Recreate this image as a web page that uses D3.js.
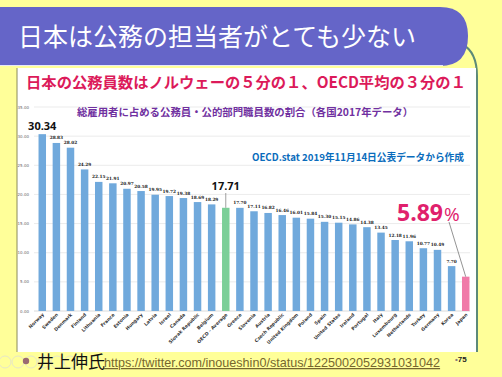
<!DOCTYPE html>
<html>
<head>
<meta charset="utf-8">
<script src="https://cdn.jsdelivr.net/npm/d3@7"></script>
<style>
  body { margin: 0; background: #ffff99; }
  svg { display: block; }
</style>
</head>
<body>
<div id="vis"></div>
<script>
// data
const countries = ["Norway", "Sweden", "Denmark", "Finland", "Lithuania", "France", "Estonia",
  "Hungary", "Latvia", "Israel", "Canada", "Slovak Republic", "Belgium", "OECD - Average",
  "Greece", "Slovenia", "Austria", "Czech Republic", "United Kingdom", "Poland", "Spain",
  "United States", "Ireland", "Portugal", "Italy", "Luxembourg", "Netherlands", "Turkey",
  "Germany", "Korea", "Japan"];
const shares = [30.34, 28.83, 28.02, 24.29, 22.15, 21.91, 20.97, 20.58, 19.95, 19.72, 19.38,
  18.69, 18.29, 17.71, 17.70, 17.11, 16.82, 16.46, 16.01, 15.84, 15.30, 15.15, 14.86, 14.38,
  13.45, 12.18, 11.96, 10.77, 10.49, 7.70, 5.89];
const yTicks = [0, 5, 10, 15, 20, 25, 30, 35];

const W = 502, H = 377;
const data = countries.map((c, i) => ({ name: c, v: shares[i] }));

const svg = d3.select("#vis").append("svg")
  .attr("width", W).attr("height", H);

svg.append("rect").attr("width", W).attr("height", H).attr("fill", "#ffff99");

////////// slide decoration //////////

// green curve on the right
svg.append("path")
  .attr("d", "M462,44 Q477,52 477,76 L477,352")
  .attr("fill", "none").attr("stroke", "#5d8a78").attr("stroke-width", 2);

// white chart panel
svg.append("rect")
  .attr("x", 17).attr("y", 68).attr("width", 459).attr("height", 284)
  .attr("fill", "#ffffff");
svg.append("line")
  .attr("x1", 17).attr("x2", 17).attr("y1", 68).attr("y2", 352)
  .attr("stroke", "#8a8a5a").attr("stroke-width", 1);

// purple title band
svg.append("path")
  .attr("d", "M0,7 L440,7 Q468,7 468,36 Q468,66 440,66 L0,66 Z")
  .attr("fill", "#6565c8");
svg.append("line")
  .attr("x1", 0).attr("x2", 443).attr("y1", 65.5).attr("y2", 65.5)
  .attr("stroke", "#e8e8f8").attr("stroke-width", 1.2);

svg.append("text")
  .attr("x", 18).attr("y", 46)
  .attr("fill", "#ffffff")
  .style("font-family", "'Noto Sans CJK JP'")
  .style("font-size", "25px")
  .text("日本は公務の担当者がとても少ない");

svg.append("text")
  .attr("x", 246).attr("y", 88)
  .attr("text-anchor", "middle")
  .attr("fill", "#dc1a5a")
  .style("font-family", "'Noto Sans CJK JP'")
  .style("font-weight", "bold")
  .style("font-size", "15.3px")
  .text("日本の公務員数はノルウェーの５分の１、OECD平均の３分の１");

////////// chart //////////

const x = d3.scaleBand()
  .domain(countries)
  .range([35, 473])
  .paddingInner(0.47)
  .paddingOuter(0.25);

const y = d3.scaleLinear()
  .domain([0, 35])
  .range([311, 107]);

const grid = svg.append("g").attr("class", "grid");
grid.selectAll("line")
  .data(yTicks)
  .enter()
  .append("line")
  .attr("x1", 34).attr("x2", 470)
  .attr("y1", d => y(d)).attr("y2", d => y(d))
  .attr("stroke", d => d === 0 ? "#d0d0d0" : "#e6e6e6")
  .attr("stroke-width", 0.8);

grid.selectAll("text")
  .data(yTicks)
  .enter()
  .append("text")
  .attr("x", 29).attr("y", d => y(d) + 1.5)
  .attr("text-anchor", "end")
  .attr("fill", "#666")
  .style("font-family", "'DejaVu Sans'")
  .style("font-size", "4px")
  .text(d => d3.format(".2f")(d));

svg.append("text")
  .attr("x", 245).attr("y", 116)
  .attr("text-anchor", "middle")
  .attr("fill", "#7030a0")
  .style("font-family", "'Noto Sans CJK JP'")
  .style("font-weight", "bold")
  .style("font-size", "10.4px")
  .text("総雇用者に占める公務員・公的部門職員数の割合（各国2017年データ）");

svg.append("text")
  .attr("x", 464).attr("y", 161)
  .attr("text-anchor", "end")
  .attr("fill", "#0a6cbc")
  .style("font-family", "'Noto Sans CJK JP'")
  .style("font-weight", "bold")
  .style("font-size", "9.7px")
  .text("OECD.stat 2019年11月14日公表データから作成");

const barColor = d => d.name === "Japan" ? "#f07aa8" : d.name === "OECD - Average" ? "#7ccf98" : "#70a9dc";

svg.append("g").attr("class", "bars")
  .selectAll("rect")
  .data(data)
  .enter()
  .append("rect")
  .attr("x", d => x(d.name))
  .attr("y", d => y(d.v))
  .attr("width", x.bandwidth())
  .attr("height", d => y(0) - y(d.v))
  .attr("fill", barColor);

const big = ["Norway", "OECD - Average", "Japan"];
svg.append("g").attr("class", "values")
  .selectAll("text")
  .data(data.filter(d => !big.includes(d.name)))
  .enter()
  .append("text")
  .attr("x", d => x(d.name) + x.bandwidth() / 2)
  .attr("y", d => y(d.v) - 3.5)
  .attr("text-anchor", "middle")
  .attr("fill", "#222")
  .style("font-family", "'DejaVu Serif'")
  .style("font-weight", "bold")
  .style("font-size", "4.3px")
  .text(d => d3.format(".2f")(d.v));

// x labels
svg.append("g").attr("class", "xlabels")
  .selectAll("text")
  .data(countries)
  .enter()
  .append("text")
  .attr("transform", d => "translate(" + (x(d) + x.bandwidth() / 2 + 2) + ",315) rotate(-45)")
  .attr("text-anchor", "end")
  .attr("fill", "#333")
  .style("font-family", "'DejaVu Sans'")
  .style("font-weight", "bold")
  .style("font-size", "4.6px")
  .text(d => d);

// highlighted values
const cx = name => x(name) + x.bandwidth() / 2;

svg.append("text")
  .attr("x", cx("Norway")).attr("y", 130)
  .attr("text-anchor", "middle")
  .attr("fill", "#111")
  .style("font-family", "'Open Sans'")
  .style("font-weight", "bold")
  .style("font-size", "11px")
  .text(d3.format(".2f")(30.34));

svg.append("text")
  .attr("x", cx("OECD - Average")).attr("y", 190)
  .attr("text-anchor", "middle")
  .attr("fill", "#111")
  .style("font-family", "'Open Sans'")
  .style("font-weight", "bold")
  .style("font-size", "11px")
  .text(d3.format(".2f")(17.71));
svg.append("line")
  .attr("x1", cx("OECD - Average")).attr("x2", cx("OECD - Average"))
  .attr("y1", 193).attr("y2", y(17.71))
  .attr("stroke", "#777").attr("stroke-width", 0.7);

const jp = svg.append("text")
  .attr("x", 397).attr("y", 221)
  .attr("fill", "#e0206c")
  .style("font-family", "'Open Sans'")
  .style("font-weight", "bold")
  .style("font-size", "23px");
jp.append("tspan").text(d3.format(".2f")(5.89));
jp.append("tspan").style("font-weight", "normal").style("font-size", "19px").attr("dx", 1).text("%");
svg.append("line")
  .attr("x1", 449).attr("x2", cx("Japan"))
  .attr("y1", 222).attr("y2", y(5.89))
  .attr("stroke", "#666").attr("stroke-width", 0.7);

////////// footer //////////

svg.append("g").attr("class", "rings")
  .selectAll("circle")
  .data([5, 18, 31, 44, 57, 70])
  .enter()
  .append("circle")
  .attr("cx", d => d).attr("cy", 362).attr("r", 6)
  .attr("fill", "none").attr("stroke", "#e6e6c8").attr("stroke-width", 1);

svg.append("circle").attr("cx", 26).attr("cy", 361).attr("r", 3.2).attr("fill", "#9a6a72");

svg.append("text")
  .attr("x", 37).attr("y", 368)
  .attr("fill", "#111")
  .style("font-family", "'Noto Sans CJK JP'")
  .style("font-size", "17px")
  .text("井上伸氏");

svg.append("text")
  .attr("x", 104).attr("y", 367)
  .attr("fill", "#76662e")
  .attr("text-decoration", "underline")
  .style("font-family", "'Liberation Sans'")
  .style("font-size", "12.6px")
  .text("https://twitter.com/inoueshin0/status/1225002052931031042");

const pg = svg.append("text")
  .attr("x", 455).attr("y", 362)
  .attr("fill", "#222")
  .style("font-family", "'Liberation Sans'")
  .style("font-weight", "bold")
  .style("font-size", "8px");
pg.append("tspan").attr("fill", "#8a7a7a").text("•");
pg.append("tspan").text("75");
</script>
</body>
</html>
